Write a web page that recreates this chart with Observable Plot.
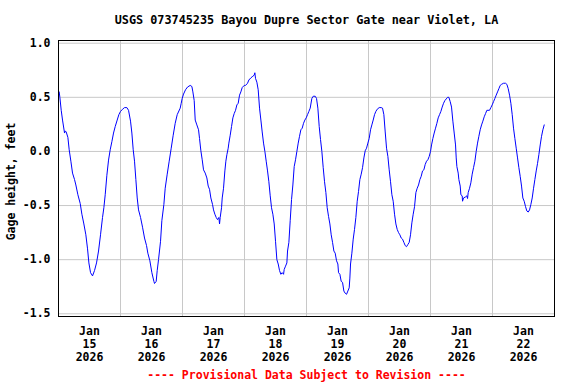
<!DOCTYPE html>
<html><head><meta charset="utf-8">
<script src="https://cdn.jsdelivr.net/npm/d3@7"></script>
<script src="https://cdn.jsdelivr.net/npm/@observablehq/plot@0.6"></script>
<style>body{margin:0;background:#fff}</style>
</head><body><div id="chart"></div>
<script>
const title = "USGS 073745235 Bayou Dupre Sector Gate near Violet, LA";
const caption = "---- Provisional Data Subject to Revision ----";
const yLabel = "Gage height, feet";
const tickMonth = "Jan";
const tickYear = 2026;
const tickDays = [15, 16, 17, 18, 19, 20, 21, 22];
const gridDays = [16, 17, 18, 19, 20, 21, 22];
const yTicks = [1.0, 0.5, 0.0, -0.5, -1.0, -1.5];

// hours since 2026-01-15 00:00 (local time)
const hours = [
0.27,0.53,1.05,1.56,2.34,2.59,2.98,3.63,4.14,4.79,5.43,6.21,6.72,7.50,8.40,9.05,9.82,10.59,11.24,11.76,12.40,13.17,13.95,14.72,15.50,16.27,17.04,17.56,18.08,18.72,19.37,20.01,20.66,21.30,21.95,22.72,23.37,24.01,24.79,25.56,26.47,27.11,27.88,28.40,28.92,29.43,29.95,30.47,30.98,31.76,32.53,33.30,34.08,34.59,35.37,36.14,36.92,37.17,37.82,38.21,38.72,39.50,40.01,40.79,41.30,42.08,42.85,43.63,44.40,45.17,45.95,
47.11,47.50,47.88,48.40,49.17,49.95,50.98,51.63,52.02,52.53,52.92,53.56,54.21,54.59,55.11,55.63,56.14,56.79,57.43,57.95,58.46,58.98,59.63,60.01,60.53,61.05,61.56,62.08,62.34,62.59,63.11,63.37,63.88,64.40,64.79,65.18,65.69,65.95,66.47,66.98,67.50,68.01,68.53,69.05,69.56,70.08,70.59,71.11,71.88,72.40,73.17,73.69,74.47,74.98,75.76,76.01,76.27,76.79,77.30,77.82,78.34,78.85,79.37,79.89,80.40,80.92,81.43,81.95,82.46,82.98,83.50,84.01,84.53,85.05,85.56,86.08,86.59,87.11,87.37,87.88,88.40,88.66,89.18,89.69,90.21,90.72,91.24,91.75,92.27,92.79,93.30,93.82,94.34,94.85,95.37,95.88,96.40,96.92,97.43,
98.08,98.60,99.37,99.88,100.40,100.92,101.43,101.95,102.47,102.98,103.50,104.01,104.53,105.05,105.56,106.08,106.60,107.11,107.63,108.14,108.40,108.92,109.43,109.95,110.47,110.98,111.50,112.01,112.53,112.79,113.05,113.56,114.08,114.59,115.11,115.63,116.14,116.66,117.18,117.69,118.21,118.72,119.24,119.76,120.27,120.79,121.30,121.82,122.34,122.85,123.37,124.14,124.92,125.43,125.95,126.47,126.98,127.50,128.01,128.53,129.05,129.56,130.08,130.60,131.11,131.63,132.14,132.66,133.17,133.69,134.21,134.72,135.24,135.76,136.27,136.79,137.30,137.82,138.34,138.85,139.37,139.89,140.40,140.92,141.43,141.95,142.47,142.98,143.50,144.01,
144.40,144.92,145.43,145.95,146.47,146.98,147.50,148.02,148.53,149.05,149.56,150.08,150.60,151.11,151.63,152.14,152.66,153.17,153.69,153.95,154.21,154.72,154.98,155.50,155.76,156.27,156.40,156.79,157.56,158.08,158.34,158.59,159.11,159.62,160.14,160.66,161.18,161.69,162.21,162.72,163.24,163.76,164.27,164.79,165.31,165.82,166.85,167.37,167.88,168.40,168.92,169.43,169.95,170.47,170.98,171.50,172.27,173.05,173.56,174.08,174.60,175.11,175.63,176.14,176.66,177.18,177.69,178.21,178.72,179.24,179.75,180.27,180.79,181.30,181.82,182.34,182.85,183.37,183.89,184.40,184.92,185.44,185.95,186.47,186.98,187.50,188.02
];
// gage height, feet
const gage = [
0.55,0.50,0.38,0.29,0.17,0.19,0.18,0.13,0.015,-0.09,-0.20,-0.26,-0.31,-0.40,-0.48,-0.58,-0.67,-0.77,-0.90,-1.03,-1.12,-1.15,-1.10,-1.03,-0.92,-0.77,-0.61,-0.52,-0.40,-0.22,-0.08,0.015,0.09,0.17,0.23,0.29,0.34,0.37,0.39,0.405,0.405,0.38,0.28,0.17,0.015,-0.09,-0.26,-0.43,-0.54,-0.61,-0.70,-0.80,-0.87,-0.94,-1.01,-1.12,-1.20,-1.22,-1.20,-1.10,-1.00,-0.83,-0.64,-0.49,-0.34,-0.21,-0.09,0.03,0.15,0.26,0.34,
0.40,0.445,0.49,0.53,0.57,0.595,0.61,0.60,0.55,0.47,0.29,0.245,0.20,0.12,0.006,-0.077,-0.17,-0.20,-0.245,-0.32,-0.35,-0.43,-0.49,-0.54,-0.58,-0.61,-0.63,-0.61,-0.67,-0.61,-0.52,-0.43,-0.34,-0.18,-0.09,-0.03,0.03,0.077,0.15,0.23,0.31,0.35,0.38,0.43,0.445,0.52,0.55,0.59,0.61,0.61,0.63,0.66,0.68,0.69,0.705,0.727,0.675,0.64,0.57,0.40,0.29,0.18,0.077,0.0,-0.09,-0.18,-0.28,-0.41,-0.52,-0.58,-0.67,-0.83,-1.00,-1.04,-1.10,-1.135,-1.12,-1.135,-1.09,-1.06,-1.03,-0.92,-0.84,-0.64,-0.445,-0.31,-0.14,-0.077,0.0,0.077,0.14,0.20,0.215,0.26,0.29,0.31,0.34,0.37,0.40,
0.49,0.51,0.51,0.49,0.40,0.23,0.11,0.0,-0.15,-0.28,-0.38,-0.52,-0.60,-0.67,-0.77,-0.84,-0.92,-0.94,-1.01,-1.04,-1.12,-1.135,-1.20,-1.21,-1.29,-1.31,-1.32,-1.29,-1.26,-1.17,-1.04,-0.94,-0.81,-0.72,-0.61,-0.46,-0.37,-0.26,-0.21,-0.15,-0.06,0.006,0.03,0.077,0.12,0.20,0.245,0.29,0.34,0.37,0.39,0.405,0.405,0.40,0.34,0.18,0.03,-0.046,-0.17,-0.28,-0.40,-0.46,-0.58,-0.67,-0.72,-0.75,-0.77,-0.80,-0.81,-0.84,-0.87,-0.88,-0.86,-0.84,-0.77,-0.66,-0.58,-0.51,-0.38,-0.34,-0.31,-0.26,-0.23,-0.18,-0.17,-0.12,-0.09,-0.077,-0.046,0.0,
0.06,0.12,0.17,0.215,0.26,0.31,0.34,0.37,0.41,0.445,0.47,0.485,0.50,0.50,0.46,0.41,0.28,0.17,0.06,-0.06,-0.14,-0.20,-0.26,-0.32,-0.40,-0.41,-0.46,-0.43,-0.42,-0.41,-0.435,-0.38,-0.34,-0.29,-0.21,-0.15,-0.09,0.0,0.077,0.14,0.20,0.245,0.28,0.32,0.35,0.38,0.38,0.405,0.43,0.46,0.49,0.52,0.55,0.58,0.61,0.62,0.63,0.63,0.62,0.58,0.52,0.445,0.34,0.215,0.12,0.03,-0.06,-0.15,-0.23,-0.32,-0.43,-0.46,-0.51,-0.55,-0.56,-0.54,-0.49,-0.43,-0.34,-0.26,-0.18,-0.11,-0.03,0.06,0.14,0.20,0.245
];

const start = Date.UTC(tickYear, 0, 15);
const data = hours.map((h, i) => ({date: new Date(start + h * 3600e3), value: gage[i]}));
const labelDates = tickDays.map(d => new Date(Date.UTC(tickYear, 0, d, 12)));
const gridDates = gridDays.map(d => new Date(Date.UTC(tickYear, 0, d)));

const chart = Plot.plot({
  width: 576,
  height: 384,
  marginLeft: 58,
  marginRight: 22,
  marginTop: 40,
  marginBottom: 68,
  style: {fontFamily: "'DejaVu Sans Mono', monospace", fontWeight: "bold", fontSize: "11.5px", background: "white", color: "black"},
  x: {type: "utc", domain: [new Date(Date.UTC(tickYear, 0, 15)), new Date(Date.UTC(tickYear, 0, 23))]},
  y: {domain: [-1.525, 1.025]},
  marks: [
    Plot.gridY(yTicks, {stroke: "#c8c8c8", strokeOpacity: 1}),
    Plot.gridX(gridDates, {stroke: "#c8c8c8", strokeOpacity: 1}),
    Plot.lineY(data, {x: "date", y: "value", stroke: "#0000ff", strokeWidth: 1}),
    Plot.frame({stroke: "black", strokeWidth: 1}),
    Plot.axisY(yTicks, {tickSize: 0, tickPadding: 8, tickFormat: d => d.toFixed(1), label: null}),
    Plot.axisX(labelDates, {tickSize: 0, tickPadding: 9, lineHeight: 1.13, tickFormat: d => `${tickMonth}\n${d.getUTCDate()}\n${tickYear}`, label: null}),
    Plot.text([title], {frameAnchor: "top", dy: -20, lineAnchor: "middle", fontSize: 11.8}),
    Plot.text([caption], {frameAnchor: "bottom", dy: 59, lineAnchor: "middle", fill: "red"}),
    Plot.text([yLabel], {frameAnchor: "left", dx: -47, dy: 3, rotate: -90, textAnchor: "middle", lineAnchor: "middle"})
  ]
});
document.getElementById("chart").append(chart);
</script>
</body></html>
